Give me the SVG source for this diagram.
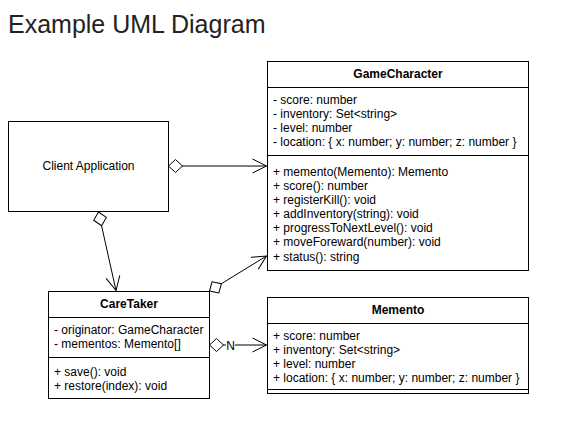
<svg xmlns="http://www.w3.org/2000/svg" width="571" height="423" viewBox="0 0 571 423">
<style>
.box{fill:#fff;stroke:#000;stroke-width:1}
.ln{stroke:#000;stroke-width:1;fill:none}
.t{font-family:"Liberation Sans",Arial,sans-serif;font-size:12px;fill:#000}
.h{font-weight:bold;text-anchor:middle}
.c{text-anchor:middle}
.title{font-family:"Liberation Sans",Arial,sans-serif;font-size:25px;fill:#222}
</style>
<defs>
<marker id="arr" markerWidth="16" markerHeight="16" refX="15" refY="8" orient="auto" markerUnits="userSpaceOnUse">
<path d="M1,1 L15,8 L1,15" fill="none" stroke="#000" stroke-width="1"/>
</marker>
<marker id="dia" markerWidth="18" markerHeight="16" refX="1" refY="8" orient="auto" markerUnits="userSpaceOnUse">
<path d="M1,8 L8,1.5 L15,8 L8,14.5 Z" fill="#fff" stroke="#000" stroke-width="1"/>
</marker>
</defs>
<rect width="571" height="423" fill="#fff"/>
<text class="title" x="8" y="33">Example UML Diagram</text>

<g id="client">
<rect class="box" x="8.5" y="121.5" width="160" height="90"/>
<text class="t c" x="88.5" y="170">Client Application</text>
</g>

<g id="gamecharacter">
<rect class="box" x="267.5" y="61.5" width="261" height="209"/>
<line class="ln" x1="267.5" y1="87.5" x2="528.5" y2="87.5"/>
<line class="ln" x1="267.5" y1="155.5" x2="528.5" y2="155.5"/>
<text class="t h" x="398" y="78">GameCharacter</text>
<text class="t" x="273" y="104">- score: number</text>
<text class="t" x="273" y="118">- inventory: Set&lt;string&gt;</text>
<text class="t" x="273" y="132">- level: number</text>
<text class="t" x="273" y="146">- location: { x: number; y: number; z: number }</text>
<text class="t" x="273" y="176">+ memento(Memento): Memento</text>
<text class="t" x="273" y="190">+ score(): number</text>
<text class="t" x="273" y="204">+ registerKill(): void</text>
<text class="t" x="273" y="218">+ addInventory(string): void</text>
<text class="t" x="273" y="232">+ progressToNextLevel(): void</text>
<text class="t" x="273" y="246">+ moveForeward(number): void</text>
<text class="t" x="273" y="261">+ status(): string</text>
</g>

<g id="caretaker">
<rect class="box" x="48.5" y="291.5" width="161" height="107"/>
<line class="ln" x1="48.5" y1="317.5" x2="209.5" y2="317.5"/>
<line class="ln" x1="48.5" y1="357.5" x2="209.5" y2="357.5"/>
<text class="t h" x="129" y="308">CareTaker</text>
<text class="t" x="54" y="334">- originator: GameCharacter</text>
<text class="t" x="54" y="348">- mementos: Memento[]</text>
<text class="t" x="54" y="376">+ save(): void</text>
<text class="t" x="54" y="390">+ restore(index): void</text>
</g>

<g id="memento">
<rect class="box" x="267.5" y="297.5" width="261" height="96"/>
<line class="ln" x1="267.5" y1="323.5" x2="528.5" y2="323.5"/>
<line class="ln" x1="267.5" y1="389.5" x2="528.5" y2="389.5"/>
<text class="t h" x="398" y="314">Memento</text>
<text class="t" x="273" y="340">+ score: number</text>
<text class="t" x="273" y="354">+ inventory: Set&lt;string&gt;</text>
<text class="t" x="273" y="368">+ level: number</text>
<text class="t" x="273" y="382">+ location: { x: number; y: number; z: number }</text>
</g>

<g id="connectors">
<line class="ln" x1="168.5" y1="166" x2="266.5" y2="166" marker-start="url(#dia)" marker-end="url(#arr)"/>
<line class="ln" x1="98.5" y1="212" x2="116" y2="290.5" marker-start="url(#dia)" marker-end="url(#arr)"/>
<line class="ln" x1="209.5" y1="291" x2="266.5" y2="256" marker-start="url(#dia)" marker-end="url(#arr)"/>
<line class="ln" x1="209.5" y1="345" x2="266.5" y2="345" marker-start="url(#dia)" marker-end="url(#arr)"/>
<rect x="226" y="339" width="9" height="12" fill="#fff"/>
<text class="t" x="230.5" y="349.5" text-anchor="middle">N</text>
</g>
</svg>
